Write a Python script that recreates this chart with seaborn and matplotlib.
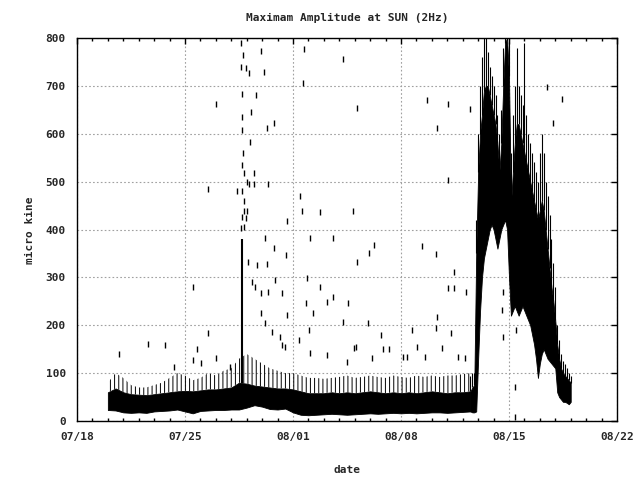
import pandas as pd
import numpy as np
import matplotlib
matplotlib.use('Agg')
import matplotlib.pyplot as plt
import matplotlib.dates as mdates
import seaborn as sns

# day 0 = 07/18
t0 = pd.Timestamp('2000-07-18')

# quiet part, every 12 h from day 2.0 to day 25.5
quiet_lo = [23,22,18,17,18,17,20,21,22,24, 20,16,21,22,23,23,24,24,28,33,
            30,25,24,26,18,13,12,13,14,15, 14,13,14,15,16,15,16,17,16,17,
            16,17,18,18,17,18,19,20]
quiet_top = [60,68,60,56,55,54,56,58,60,62, 63,62,64,66,66,68,70,80,78,74,
             72,70,68,68,66,62,58,58,58,60, 58,60,58,60,62,60,58,60,58,60,
             58,60,62,60,58,60,60,62]
quiet_fringe = [80,100,90,75,70,70,75,80,90,100, 95,85,90,100,95,105,110,130,140,130,
                120,110,105,100,100,95,90,90,88,90, 92,95,90,92,95,92,90,95,92,90,
                95,92,95,92,95,95,98,100]

# active part, every 3 h from day 25.5 to day 32.0
active_lo = [20,18,18,20,130,230,300,340,360,380,400,410,400,380,360,380,400,410,420,400,
             300,220,230,240,230,220,230,240,230,220,210,200,180,160,130,90,120,140,150,140,
             130,125,120,115,110,60,50,45,40,40,38,35,40]
active_top = [62,70,75,350,520,600,640,690,700,700,680,660,640,620,580,520,580,700,790,800,
              720,450,520,580,620,620,600,580,560,540,520,500,480,460,440,420,440,460,440,400,
              360,320,280,250,210,160,130,110,100,95,90,85,80]
active_fringe = [95,100,100,420,600,700,760,800,800,770,740,720,700,680,640,600,650,780,800,800,
                 800,560,640,700,780,700,680,660,790,640,600,580,560,540,520,500,560,600,560,500,
                 470,430,380,330,280,200,170,140,125,120,110,100,95]

# isolated spikes (day after 07/18, micro kine)
spike_day = [10.63,10.76,11.92,14.71,10.63,10.95,11.15,12.12,14.65,10.69,
             11.60,9.01,11.28,10.69,12.77,12.31,10.69,11.21,10.76,10.69,
             10.82,11.47,11.02,11.15,11.47,12.38,8.49,10.37,10.69,14.45,
             10.82,14.58,10.82,11.02,10.69,10.95,13.61,10.63,10.82,12.18,15.10,
             17.24,18.15,22.68,24.04,25.47,23.33,24.04,17.89,15.75,16.59,30.46,31.43,30.85,
             19.25,22.36,18.92,23.27,18.15,24.43,15.75,24.04,24.43,25.21,16.59,16.20,17.56,
             23.33,17.24,18.86,23.27,21.71,24.24,19.70,22.04,17.95,19.83,20.22,23.66,21.13,
             19.12,24.69,25.15,22.55,28.39,28.39,27.61,27.61,27.54,28.45,
             2.72,4.60,5.70,7.52,8.49,7.78,7.52,8.04,9.01,9.92,6.29,
             12.77,13.55,11.67,12.31,11.08,11.92,12.38,13.29,14.84,14.39,14.91,11.34,11.54,
             15.29,15.04,13.48,13.61,12.83,
             11.92,12.18,12.64,13.16,13.29,15.10,16.20,17.50,18.08,21.39]
spike_val = [789,764,773,776,739,737,726,729,706,684,
             681,662,645,634,622,612,607,583,559,535,
             518,517,500,495,495,496,484,481,481,470,
             459,439,439,439,426,423,418,404,405,382,382,
             757,653,670,663,651,611,504,438,436,382,698,672,622,
             367,365,351,349,332,311,280,278,278,269,259,248,246,
             217,207,204,194,190,184,180,155,152,150,150,152,134,
             131,133,131,134,8,71,175,270,232,190,
             140,161,159,280,184,151,127,121,131,113,113,
             361,347,326,328,332,267,270,267,246,169,298,291,280,
             225,190,155,221,294,
             225,204,186,175,159,142,138,123,155,134]

# burst on 07/28
burst_day = [10.69]
burst_lo = [80]
burst_hi = [380]

def to_time(days):
    return t0 + pd.to_timedelta(np.asarray(days, dtype=float), unit='D')

quiet_t = pd.date_range(t0 + pd.Timedelta(days=2), periods=len(quiet_lo), freq='12h')
active_t = pd.date_range(t0 + pd.Timedelta(days=25.5), periods=len(active_lo), freq='3h')

sns.set_style('white')
plt.rcParams['font.family'] = ['DejaVu Sans Mono']
plt.rcParams['font.weight'] = 'bold'
plt.rcParams['font.size'] = 8
plt.rcParams['hatch.linewidth'] = 0.7

fig = plt.figure(figsize=(6.4, 4.8), dpi=100)
ax = fig.add_axes([77/640, 59/480, 540/640, 383/480])

# quiet band
ax.fill_between(quiet_t, quiet_top, quiet_fringe, facecolor='none', edgecolor='black',
                hatch='||||', linewidth=0)
ax.fill_between(quiet_t, quiet_lo, quiet_top, color='black', linewidth=0.6)

# active band
ax.vlines(active_t, active_top, active_fringe, color='black', linewidth=0.8)
ax.fill_between(active_t, active_lo, active_top, color='black', linewidth=0.6)

ax.vlines(to_time(burst_day), burst_lo, burst_hi, color='black', linewidth=1.5)

spikes = pd.DataFrame({'date': to_time(spike_day), 'amp': spike_val})
sns.scatterplot(data=spikes, x='date', y='amp', marker='|', s=14, linewidth=1,
                color='black', ax=ax)

ax.set_xlim(t0, t0 + pd.Timedelta(days=35))
ax.set_ylim(0, 800)
ax.set_yticks(np.arange(0, 801, 100))
ax.set_xticks(pd.date_range(t0, periods=6, freq='7D'))
ax.xaxis.set_major_formatter(mdates.DateFormatter('%m/%d'))
ax.xaxis.set_minor_locator(mdates.DayLocator())
ax.set_xlabel('')
ax.set_ylabel('')

ax.grid(True, which='major', color='#a0a0a0', linestyle=(0, (1.5, 2)), linewidth=0.8)
ax.set_axisbelow(True)
for s in ax.spines.values():
    s.set_color('black')
    s.set_linewidth(1)

ax.tick_params(which='major', direction='in', length=4, width=1, color='black',
               top=True, right=True, pad=8, labelsize=8)
ax.tick_params(which='minor', direction='in', length=2, width=1, color='black',
               top=True, right=False, bottom=True)

fig.text(347/640, 1 - 18/480, 'Maximam Amplitude at SUN (2Hz)', ha='center', va='center')
fig.text(347/640, 1 - 470/480, 'date', ha='center', va='center')
fig.text(30/640, 1 - 230/480, 'micro kine', ha='center', va='center', rotation=90)

fig.savefig('out.png', dpi=100)
